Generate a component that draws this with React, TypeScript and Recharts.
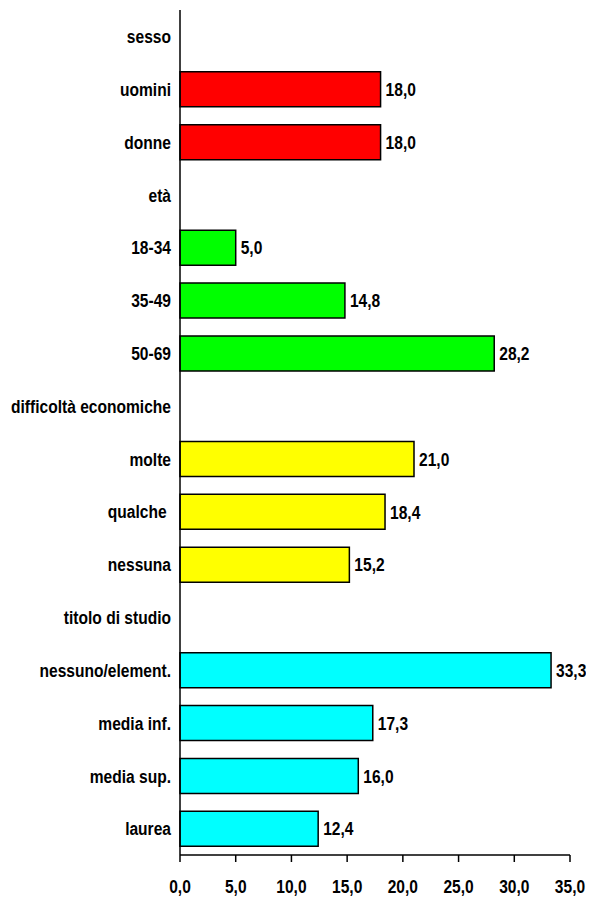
import React from 'react';
import { BarChart, Bar, XAxis, YAxis, Cell, LabelList } from 'recharts';

const categories = [
  'sesso', 'uomini', 'donne',
  'età', '18-34', '35-49', '50-69',
  'difficoltà economiche', 'molte', 'qualche\u00a0', 'nessuna',
  'titolo di studio', 'nessuno/element.', 'media inf.', 'media sup.', 'laurea',
];
const values: (number | null)[] = [
  null, 18.0, 18.0,
  null, 5.0, 14.8, 28.2,
  null, 21.0, 18.4, 15.2,
  null, 33.3, 17.3, 16.0, 12.4,
];
const groupColors: string[] = [
  '#FF0000', '#FF0000', '#FF0000',
  '#00FF00', '#00FF00', '#00FF00', '#00FF00',
  '#FFFF00', '#FFFF00', '#FFFF00', '#FFFF00',
  '#00FFFF', '#00FFFF', '#00FFFF', '#00FFFF', '#00FFFF',
];
const xTicks = [0, 5, 10, 15, 20, 25, 30, 35];

const data = categories.map((c, i) => ({ name: c, value: values[i] }));

const FONT = "'Liberation Sans', Arial, sans-serif";
const SX = 0.82;
const fmt = (v: any) => (v === null || v === undefined ? '' : Number(v).toFixed(1).replace('.', ','));

const NarrowText = ({ x, y, anchor, dy, children }: any) => (
  <text
    transform={`translate(${x},${y}) scale(${SX},1)`}
    x={0}
    y={0}
    dy={dy}
    textAnchor={anchor}
    fill="#000"
    fontFamily={FONT}
    fontWeight="bold"
    fontSize={19}
    style={{ whiteSpace: 'pre' }}
  >
    {children}
  </text>
);

const YTick = (props: any) => {
  const { x, y, payload } = props;
  return <NarrowText x={x} y={y} anchor="end" dy="0.355em">{payload.value}</NarrowText>;
};

const XTick = (props: any) => {
  const { x, y, payload } = props;
  return <NarrowText x={x} y={y} anchor="middle" dy="0.71em">{fmt(payload.value)}</NarrowText>;
};

const ValueLabel = (props: any) => {
  const { x, y, width, height, value } = props;
  if (value === null || value === undefined) return null;
  return (
    <NarrowText x={x + width + 5} y={y + height / 2} anchor="start" dy="0.355em">
      {fmt(value)}
    </NarrowText>
  );
};

export default function App() {
  return (
    <BarChart
      width={580}
      height={889}
      data={data}
      layout="vertical"
      margin={{ top: 2, right: 18, left: 0, bottom: 0 }}
    >
      <XAxis
        type="number"
        domain={[0, 35]}
        ticks={xTicks}
        interval={0}
        height={42}
        tickSize={7}
        tickMargin={18}
        axisLine={{ stroke: '#000', strokeWidth: 1.5 }}
        tickLine={{ stroke: '#000', strokeWidth: 1.5 }}
        tick={<XTick />}
      />
      <YAxis
        type="category"
        dataKey="name"
        width={172}
        interval={0}
        tickLine={false}
        tickSize={0}
        tickMargin={9}
        axisLine={{ stroke: '#000', strokeWidth: 1.5 }}
        tick={<YTick />}
      />
      <Bar dataKey="value" isAnimationActive={false} stroke="#000" strokeWidth={1.5} barSize={35}>
        {data.map((d, i) => (
          <Cell key={i} fill={groupColors[i]} />
        ))}
        <LabelList dataKey="value" content={<ValueLabel />} />
      </Bar>
    </BarChart>
  );
}
